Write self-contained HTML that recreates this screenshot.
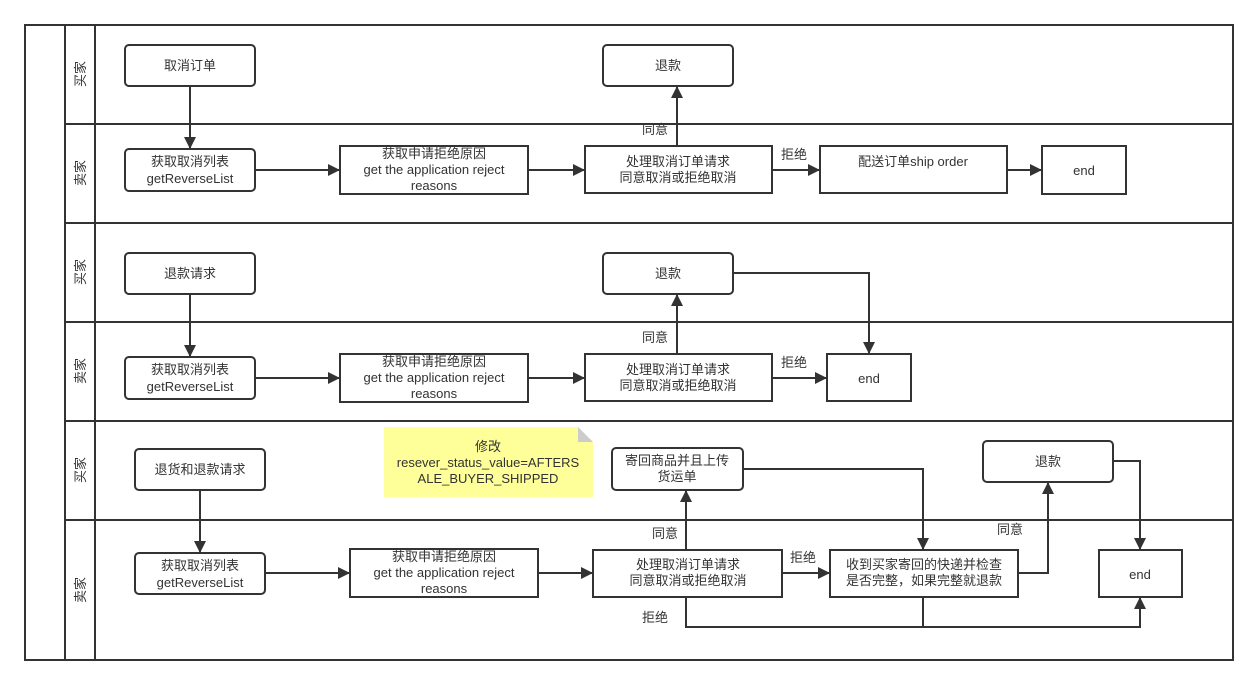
<!DOCTYPE html>
<html><head><meta charset="utf-8"><style>
html,body{margin:0;padding:0;background:#fff;}
svg text{font-family:"Liberation Sans","Noto Sans CJK SC",sans-serif;font-size:13px;fill:#333;}
</style></head><body>
<svg width="1258" height="685" viewBox="0 0 1258 685" xmlns="http://www.w3.org/2000/svg">
<defs>
<marker id="a" viewBox="0 0 12 12" refX="12" refY="6" markerWidth="12" markerHeight="12" markerUnits="userSpaceOnUse" orient="auto"><path d="M0,0 L12,6 L0,12 z" fill="#333"/></marker>
</defs>
<g fill="none" stroke="#333" stroke-width="2">
<rect x="25" y="25" width="1208" height="635"/>
<line x1="65" y1="25" x2="65" y2="660"/>
<line x1="95" y1="25" x2="95" y2="660"/>
<line x1="65" y1="124" x2="1233" y2="124"/>
<line x1="65" y1="223" x2="1233" y2="223"/>
<line x1="65" y1="322" x2="1233" y2="322"/>
<line x1="65" y1="421" x2="1233" y2="421"/>
<line x1="65" y1="520" x2="1233" y2="520"/>
</g>
<g font-size="12">
<text transform="translate(85,74) rotate(-90)" text-anchor="middle">买家</text>
<text transform="translate(85,173) rotate(-90)" text-anchor="middle">卖家</text>
<text transform="translate(85,272) rotate(-90)" text-anchor="middle">买家</text>
<text transform="translate(85,371) rotate(-90)" text-anchor="middle">卖家</text>
<text transform="translate(85,470) rotate(-90)" text-anchor="middle">买家</text>
<text transform="translate(85,590) rotate(-90)" text-anchor="middle">卖家</text>
</g>
<g fill="#fff" stroke="#333" stroke-width="2">
<rect x="125" y="45" width="130" height="41" rx="4"/>
<rect x="603" y="45" width="130" height="41" rx="4"/>
<rect x="125" y="149" width="130" height="42" rx="4"/>
<rect x="340" y="146" width="188" height="48"/>
<rect x="585" y="146" width="187" height="47"/>
<rect x="820" y="146" width="187" height="47"/>
<rect x="1042" y="146" width="84" height="48"/>
<rect x="125" y="253" width="130" height="41" rx="4"/>
<rect x="603" y="253" width="130" height="41" rx="4"/>
<rect x="125" y="357" width="130" height="42" rx="4"/>
<rect x="340" y="354" width="188" height="48"/>
<rect x="585" y="354" width="187" height="47"/>
<rect x="827" y="354" width="84" height="47"/>
<rect x="135" y="449" width="130" height="41" rx="4"/>
<rect x="612" y="448" width="131" height="42" rx="4"/>
<rect x="983" y="441" width="130" height="41" rx="4"/>
<rect x="135" y="553" width="130" height="41" rx="4"/>
<rect x="350" y="549" width="188" height="48"/>
<rect x="593" y="550" width="189" height="47"/>
<rect x="830" y="550" width="188" height="47"/>
<rect x="1099" y="550" width="83" height="47"/>
</g>
<path d="M384,427 H578 L593,442 V497 H384 Z" fill="#ffff99" stroke="none"/>
<path d="M578,427 L593,442 H578 Z" fill="#ccc"/>
<g fill="none" stroke="#333" stroke-width="2" marker-end="url(#a)">
<path d="M190,86 V149"/>
<path d="M255,170 H340"/>
<path d="M528,170 H585"/>
<path d="M772,170 H820"/>
<path d="M1007,170 H1042"/>
<path d="M677,146 V86"/>
<path d="M190,294 V357"/>
<path d="M255,378 H340"/>
<path d="M528,378 H585"/>
<path d="M772,378 H827"/>
<path d="M677,354 V294"/>
<path d="M733,273 H869 V354"/>
<path d="M200,490 V553"/>
<path d="M265,573 H350"/>
<path d="M538,573 H593"/>
<path d="M782,573 H830"/>
<path d="M686,550 V490"/>
<path d="M743,469 H923 V550"/>
<path d="M1018,573 H1048 V482"/>
<path d="M1113,461 H1140 V550"/>
<path d="M686,597 V627 H1140 V597"/>
</g>
<line x1="923" y1="597" x2="923" y2="627" stroke="#333" stroke-width="2"/>
<g text-anchor="middle">
<text x="190" y="70">取消订单</text>
<text x="668" y="70">退款</text>
<text x="190" y="166">获取取消列表</text>
<text x="190" y="183">getReverseList</text>
<text x="434" y="158">获取申请拒绝原因</text>
<text x="434" y="174">get the application reject</text>
<text x="434" y="190">reasons</text>
<text x="678" y="166">处理取消订单请求</text>
<text x="678" y="182">同意取消或拒绝取消</text>
<text x="913" y="166">配送订单ship order</text>
<text x="1084" y="175">end</text>
<text x="190" y="278">退款请求</text>
<text x="668" y="278">退款</text>
<text x="190" y="374">获取取消列表</text>
<text x="190" y="391">getReverseList</text>
<text x="434" y="366">获取申请拒绝原因</text>
<text x="434" y="382">get the application reject</text>
<text x="434" y="398">reasons</text>
<text x="678" y="374">处理取消订单请求</text>
<text x="678" y="390">同意取消或拒绝取消</text>
<text x="869" y="383">end</text>
<text x="200" y="474">退货和退款请求</text>
<text x="488" y="451">修改</text>
<text x="488" y="467">resever_status_value=AFTERS</text>
<text x="488" y="483">ALE_BUYER_SHIPPED</text>
<text x="677" y="465">寄回商品并且上传</text>
<text x="677" y="481">货运单</text>
<text x="1048" y="466">退款</text>
<text x="200" y="570">获取取消列表</text>
<text x="200" y="587">getReverseList</text>
<text x="444" y="561">获取申请拒绝原因</text>
<text x="444" y="577">get the application reject</text>
<text x="444" y="593">reasons</text>
<text x="688" y="569">处理取消订单请求</text>
<text x="688" y="585">同意取消或拒绝取消</text>
<text x="924" y="569">收到买家寄回的快递并检查</text>
<text x="924" y="585">是否完整，如果完整就退款</text>
<text x="1140" y="579">end</text>
<text x="655" y="134">同意</text>
<text x="794" y="159">拒绝</text>
<text x="655" y="342">同意</text>
<text x="794" y="367">拒绝</text>
<text x="665" y="538">同意</text>
<text x="803" y="562">拒绝</text>
<text x="1010" y="534">同意</text>
<text x="655" y="622">拒绝</text>
</g>
</svg>
</body></html>
